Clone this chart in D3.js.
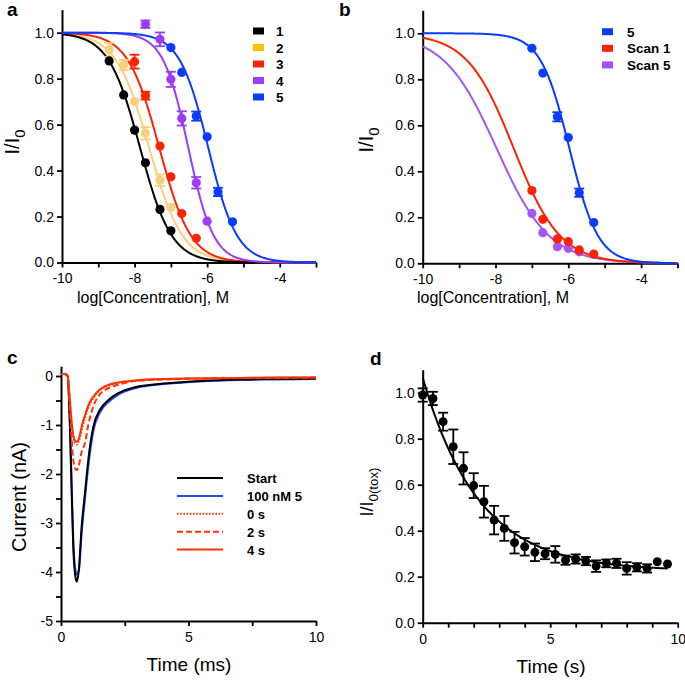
<!DOCTYPE html>
<html><head><meta charset="utf-8">
<script src="https://cdn.jsdelivr.net/npm/d3@7"></script>
<style>body{margin:0;background:#fff}svg{display:block}text{font-family:"Liberation Sans",Arial,sans-serif}</style>
</head><body>
<script>
// ---------- Panel a data ----------
const seriesA = ["1","2","3","4","5"];
const colorsA = ["#000000","#F8CF7A","#FF2200","#9C3CF5","#0A3CFF"];
const legendColorsA = ["#000000","#FFC000","#FF2200","#9C3CF5","#0A3CFF"];
const xA1 = [-8.7,-8.3,-8.0,-7.7,-7.3,-7.0];
const yA1 = [0.877,0.729,0.576,0.434,0.231,0.138];
const eA1 = [0.01,0.01,0.01,0.01,0.01,0.01];
const xA2 = [-8.7,-8.3,-8.0,-7.7,-7.3,-7.0];
const yA2 = [0.925,0.859,0.70,0.562,0.358,0.24];
const eA2 = [0.03,0.022,0.01,0.027,0.025,0.01];
const xA3 = [-8.0,-7.7,-7.3,-7.0,-6.7,-6.3];
const yA3 = [0.874,0.726,0.507,0.373,0.213,0.105];
const eA3 = [0.03,0.017,0.01,0.01,0.01,0.01];
const xA4 = [-7.7,-7.3,-7.0,-6.7,-6.3,-6.0];
const yA4 = [1.037,0.971,0.797,0.627,0.347,0.18];
const eA4 = [0.016,0.03,0.033,0.031,0.025,0.01];
const xA5 = [-7.0,-6.7,-6.3,-6.0,-5.7,-5.3];
const yA5 = [0.935,0.827,0.637,0.547,0.307,0.177];
const eA5 = [0.01,0.01,0.02,0.01,0.018,0.01];
const logIC50A = [-7.85,-7.6,-7.32,-6.52,-5.97];
const hillA = [1.0,0.95,1.0,1.25,1.1];

// ---------- Panel b data ----------
const seriesB = ["5","Scan 1","Scan 5"];
const colorsB = ["#0A3CFF","#FF2200","#A356F5"];
const legendColorsB = ["#0A3CFF","#FF2200","#A34FFF"];
const xB1 = [-7.0,-6.7,-6.3,-6.0,-5.7,-5.3];
const yB1 = [0.935,0.827,0.637,0.547,0.307,0.177];
const eB1 = [0.01,0.01,0.02,0.01,0.018,0.01];
const xB2 = [-7.0,-6.7,-6.3,-6.0,-5.7,-5.3];
const yB2 = [0.316,0.191,0.106,0.094,0.058,0.04];
const eB2 = [0,0,0,0,0,0];
const xB3 = [-7.0,-6.7,-6.3,-6.0,-5.7];
const yB3 = [0.217,0.133,0.072,0.065,0.05];
const eB3 = [0,0,0,0,0];
const logIC50B = [-5.97,-7.5,-7.97];
const hillB = [1.1,0.68,0.6];

const concTicks = [-10,-9,-8,-7,-6,-5,-4,-3];
const concTickLabels = ["-10","","-8","","-6","","-4",""];
const fracTicks = [0,0.2,0.4,0.6,0.8,1.0];
const fracTickLabels = ["0.0","0.2","0.4","0.6","0.8","1.0"];

// ---------- Panel c data ----------
const tracesC = ["Start","100 nM 5","0 s","2 s","4 s"];
const colorsC = ["#000000","#1E4BFF","#FF3300","#FF3300","#FF3300"];
const tC = [0,0.15,0.26,0.35,0.42,0.48,0.55,0.62,0.7,0.81,0.94,1.07,1.27,1.53,1.86,2.25,2.9,4.15,5.45,7,8.5,10];
const iStart = [0.04,0.04,0.0,-1.03,-2.4,-3.48,-4.04,-4.2,-3.95,-3.07,-2.39,-1.71,-1.03,-0.69,-0.49,-0.35,-0.23,-0.15,-0.1,-0.07,-0.06,-0.05];
const i100nM = [0.04,0.04,0.0,-0.95,-2.25,-3.3,-3.9,-4.05,-3.97,-3.2,-2.5,-1.85,-1.12,-0.74,-0.53,-0.38,-0.25,-0.16,-0.11,-0.08,-0.07,-0.06];
const i0s = [0.04,0.04,0.0,-0.55,-1.0,-1.25,-1.37,-1.4,-1.33,-1.1,-0.85,-0.65,-0.45,-0.29,-0.2,-0.14,-0.1,-0.06,-0.05,-0.04,-0.03,-0.03];
const i2s = [0.04,0.04,0.0,-0.7,-1.3,-1.7,-1.88,-1.92,-1.82,-1.55,-1.37,-1.0,-0.62,-0.37,-0.25,-0.18,-0.1,-0.07,-0.05,-0.04,-0.04,-0.03];
const i4s = [0.04,0.04,0.0,-0.5,-0.95,-1.2,-1.32,-1.34,-1.28,-1.03,-0.8,-0.6,-0.42,-0.27,-0.18,-0.13,-0.09,-0.06,-0.05,-0.04,-0.03,-0.03];
const timeTicksC = [0,2.5,5,7.5,10];
const timeTickLabelsC = ["0","","5","","10"];
const currTicks = [-5,-4.5,-4,-3.5,-3,-2.5,-2,-1.5,-1,-0.5,0];
const currTickLabels = ["-5","","-4","","-3","","-2","","-1","","0"];

// ---------- Panel d data ----------
const tD = [0,0.4,0.8,1.2,1.6,2.0,2.4,2.8,3.2,3.6,4.0,4.4,4.8,5.2,5.6,6.0,6.4,6.8,7.2,7.6,8.0,8.4,8.8,9.2,9.6];
const yD = [0.99,0.975,0.874,0.765,0.671,0.596,0.526,0.446,0.41,0.348,0.33,0.306,0.30,0.297,0.272,0.277,0.268,0.246,0.258,0.258,0.236,0.241,0.236,0.265,0.255];
const eD = [0.029,0.029,0.039,0.075,0.07,0.054,0.069,0.062,0.054,0.047,0.038,0.038,0.024,0.036,0.02,0.02,0.018,0.025,0.017,0.02,0.027,0.018,0.018,0,0];
const fitD = {amplitude:0.84, tau:2.2, plateau:0.225};
const timeTicksD = [0,1,2,3,4,5,6,7,8,9,10];
const timeTickLabelsD = ["0","","","","","5","","","","","10"];

// ---------- drawing ----------
const svg = d3.select("body").append("svg").attr("width",685).attr("height",680);
svg.append("rect").attr("width",685).attr("height",680).attr("fill","#fff");

function styleAxis(g){
  g.select(".domain").attr("stroke","#000").attr("stroke-width",2);
  g.selectAll(".tick line").attr("stroke","#000").attr("stroke-width",1.8);
  g.selectAll(".tick text").attr("font-size",14).attr("fill","#000")
    .attr("font-family","'Liberation Sans',Arial,sans-serif");
}
function drawAxes(x,y,xTicks,xLabels,yTicks,yLabels){
  const gx = svg.append("g").attr("transform",`translate(0,${y.range()[0]})`)
    .call(d3.axisBottom(x).tickValues(xTicks).tickFormat((d,i)=>xLabels[i]).tickSize(5).tickSizeOuter(0).tickPadding(6));
  styleAxis(gx);
  const gy = svg.append("g").attr("transform",`translate(${x.range()[0]},0)`)
    .call(d3.axisLeft(y).tickValues(yTicks).tickFormat((d,i)=>yLabels[i]).tickSize(5).tickSizeOuter(0).tickPadding(3));
  styleAxis(gy);
}
function drawPoints(x,y,xs,ys,es,color,r){
  const g = svg.append("g");
  xs.forEach((xv,i)=>{
    if(es[i]>0.012){
      const cx=x(xv), y1=y(ys[i]-es[i]), y2=y(ys[i]+es[i]);
      g.append("line").attr("x1",cx).attr("x2",cx).attr("y1",y1).attr("y2",y2).attr("stroke",color).attr("stroke-width",1.8);
      [y1,y2].forEach(yy=>g.append("line").attr("x1",cx-5).attr("x2",cx+5).attr("y1",yy).attr("y2",yy).attr("stroke",color).attr("stroke-width",1.8));
    }
  });
  g.selectAll("circle").data(xs).join("circle")
    .attr("cx",d=>x(d)).attr("cy",(d,i)=>y(ys[i])).attr("r",r).attr("fill",color);
}
function hillCurve(x,y,ic50,h,color){
  const xs = d3.range(x.domain()[0], x.domain()[1]+0.001, 0.02);
  const line = d3.line().x(d=>x(d)).y(d=>y(1/(1+Math.pow(10,(d-ic50)*h))));
  svg.append("path").datum(xs).attr("d",line).attr("fill","none").attr("stroke",color).attr("stroke-width",2);
}
function label(txt,x,y){
  svg.append("text").attr("x",x).attr("y",y).attr("font-size",19).attr("font-weight","bold").text(txt);
}
function yTitle(x,y,main,sub,size){
  const t = svg.append("text").attr("transform",`translate(${x},${y}) rotate(-90)`).attr("text-anchor","middle").attr("font-size",size);
  t.append("tspan").text(main);
  if(sub) t.append("tspan").attr("font-size",size*0.74).attr("dy",size*0.3).text(sub);
}
function xTitle(x,y,txt,size){
  svg.append("text").attr("x",x).attr("y",y).attr("text-anchor","middle").attr("font-size",size).text(txt);
}

// Panel a
{
  const x = d3.scaleLinear().domain([-10,-3]).range([62,316]);
  const y = d3.scaleLinear().domain([0,1.1]).range([262.5,9.7]);
  drawAxes(x,y,concTicks,concTickLabels,fracTicks,fracTickLabels);
  const xs=[xA1,xA2,xA3,xA4,xA5], ys=[yA1,yA2,yA3,yA4,yA5], es=[eA1,eA2,eA3,eA4,eA5];
  [1,2,0,3,4].forEach(i=>hillCurve(x,y,logIC50A[i],hillA[i],colorsA[i]));
  [1,2,0,3,4].forEach(i=>drawPoints(x,y,xs[i],ys[i],es[i],colorsA[i],4.6));
  seriesA.forEach((s,i)=>{
    const ry = 31 + i*16.5;
    svg.append("rect").attr("x",253).attr("y",ry-3.5).attr("width",11).attr("height",7).attr("fill",legendColorsA[i]);
    svg.append("text").attr("x",276).attr("y",ry+5).attr("font-size",13.5).attr("font-weight","bold").text(s);
  });
  label("a",7,16);
  yTitle(19,142,"I/I","0",20);
  xTitle(153,303,"log[Concentration], M",16);
}
// Panel b
{
  const x = d3.scaleLinear().domain([-10,-3]).range([422.7,677.5]);
  const y = d3.scaleLinear().domain([0,1.1]).range([263.3,10.3]);
  drawAxes(x,y,concTicks,concTickLabels,fracTicks,fracTickLabels);
  const xs=[xB1,xB2,xB3], ys=[yB1,yB2,yB3], es=[eB1,eB2,eB3];
  [2,1,0].forEach(i=>hillCurve(x,y,logIC50B[i],hillB[i],colorsB[i]));
  [2,1,0].forEach(i=>drawPoints(x,y,xs[i],ys[i],es[i],colorsB[i],4.6));
  seriesB.forEach((s,i)=>{
    const ry = 31.7 + i*16.6;
    svg.append("rect").attr("x",602).attr("y",ry-3.5).attr("width",11).attr("height",7).attr("fill",legendColorsB[i]);
    svg.append("text").attr("x",627).attr("y",ry+5).attr("font-size",13.5).attr("font-weight","bold").text(s);
  });
  label("b",339,16);
  yTitle(373,140,"I/I","0",20);
  xTitle(493,303,"log[Concentration], M",16);
}
// Panel c
{
  const x = d3.scaleLinear().domain([0,10]).range([61,316]);
  const y = d3.scaleLinear().domain([-5,0.2]).range([621,366.2]);
  drawAxes(x,y,timeTicksC,timeTickLabelsC,currTicks,currTickLabels);
  const vals = [iStart,i100nM,i0s,i2s,i4s];
  const dashes = [null,null,"1.6,1.6","6,3",null];
  const line = d3.line().x((d,i)=>x(tC[i])).y(d=>y(d)).curve(d3.curveMonotoneX);
  [1,0,2,3,4].forEach(k=>{
    svg.append("path").datum(vals[k]).attr("d",line).attr("fill","none")
      .attr("stroke",colorsC[k]).attr("stroke-width",2).attr("stroke-dasharray",dashes[k]);
  });
  tracesC.forEach((s,i)=>{
    const ry = 478 + i*17.9;
    svg.append("line").attr("x1",177).attr("x2",223).attr("y1",ry).attr("y2",ry)
      .attr("stroke",colorsC[i]).attr("stroke-width",2).attr("stroke-dasharray",dashes[i]);
    svg.append("text").attr("x",247).attr("y",ry+5).attr("font-size",13).attr("font-weight","bold").text(s);
  });
  label("c",7,364);
  yTitle(26,497,"Current (nA)","",20);
  xTitle(189,671,"Time (ms)",19);
}
// Panel d
{
  const x = d3.scaleLinear().domain([0,10]).range([422.7,677.7]);
  const y = d3.scaleLinear().domain([0,1.1]).range([622.7,369.7]);
  drawAxes(x,y,timeTicksD,timeTickLabelsD,fracTicks,fracTickLabels);
  const ts = d3.range(0,9.6001,0.05);
  const line = d3.line().x(d=>x(d)).y(d=>y(fitD.plateau+fitD.amplitude*Math.exp(-d/fitD.tau)));
  svg.append("path").datum(ts).attr("d",line).attr("fill","none").attr("stroke","#000").attr("stroke-width",2);
  drawPoints(x,y,tD,yD,eD,"#000",4.5);
  label("d",370,365);
  yTitle(373,492,"I/I","0(tox)",18);
  xTitle(551,673,"Time (s)",19);
}
</script>
</body></html>
